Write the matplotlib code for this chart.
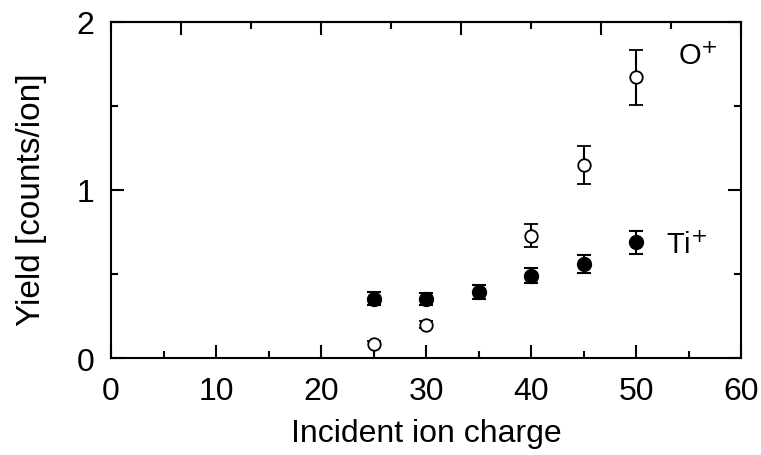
import matplotlib
matplotlib.use("Agg")
import matplotlib.pyplot as plt
import numpy as np

plt.rcParams["font.family"] = ["Liberation Sans", "DejaVu Sans"]

# Datos
charge = [25, 30, 35, 40, 45, 50]
ti_yield = [0.354, 0.350, 0.393, 0.490, 0.560, 0.689]
ti_err = [0.037, 0.037, 0.042, 0.046, 0.055, 0.069]

o_charge = [25, 30, 40, 45, 50]
o_yield = [0.083, 0.198, 0.728, 1.149, 1.671]
o_err_lo = [0.09, 0.02, 0.07, 0.113, 0.164]
o_err_hi = [0.02, 0.02, 0.07, 0.113, 0.164]

top_major = [20/3, 20, 100/3, 140/3, 60]
top_minor = [0, 40/3, 80/3, 40, 160/3]

fig = plt.figure(figsize=(7.61, 4.56), dpi=100)
ax = fig.add_axes([0.146, 0.2127, 0.828, 0.737])

ax.errorbar(charge, ti_yield, yerr=ti_err, fmt='o', color='black', mfc='black',
            ms=10, elinewidth=1.5, capsize=5, capthick=1.5, zorder=3)
ax.errorbar(o_charge, o_yield, yerr=[o_err_lo, o_err_hi], fmt='o', color='black',
            mfc='white', mew=1.3, ms=9, elinewidth=1.5, capsize=5, capthick=1.5, zorder=3)

ax.text(54.0, 1.80, "O$^{+}$", fontsize=21, va='center', ha='left')
ax.text(52.8, 0.67, "Ti$^{+}$", fontsize=21, va='center', ha='left')

ax.set_xlim(0, 60)
ax.set_ylim(0, 2)
ax.set_xticks(np.arange(0, 61, 10))
ax.set_xticks(np.arange(5, 60, 10), minor=True)
ax.set_yticks([0, 1, 2])
ax.set_yticks([0.5, 1.5], minor=True)

ax.tick_params(which='both', direction='in', top=False, right=True, width=1.5,
               labelsize=23)
ax.tick_params(which='major', length=9.5)
ax.tick_params(which='minor', length=5)
ax.tick_params(axis='x', pad=13)
ax.tick_params(axis='y', pad=12)

# eje superior con otra escala
top = ax.secondary_xaxis('top')
top.set_xticks(top_major)
top.set_xticks(top_minor, minor=True)
top.tick_params(which='both', direction='in', width=1.5, labeltop=False)
top.tick_params(which='major', length=9.5)
top.tick_params(which='minor', length=5)

for s in list(ax.spines.values()) + list(top.spines.values()):
    s.set_linewidth(1.5)

ax.set_xlabel('Incident ion charge', fontsize=23)
ax.set_ylabel('Yield [counts/ion]', fontsize=24)
ax.xaxis.set_label_coords(0.5, -0.178)
ax.yaxis.set_label_coords(-0.102, 0.473)

plt.savefig('out.png', dpi=100)
